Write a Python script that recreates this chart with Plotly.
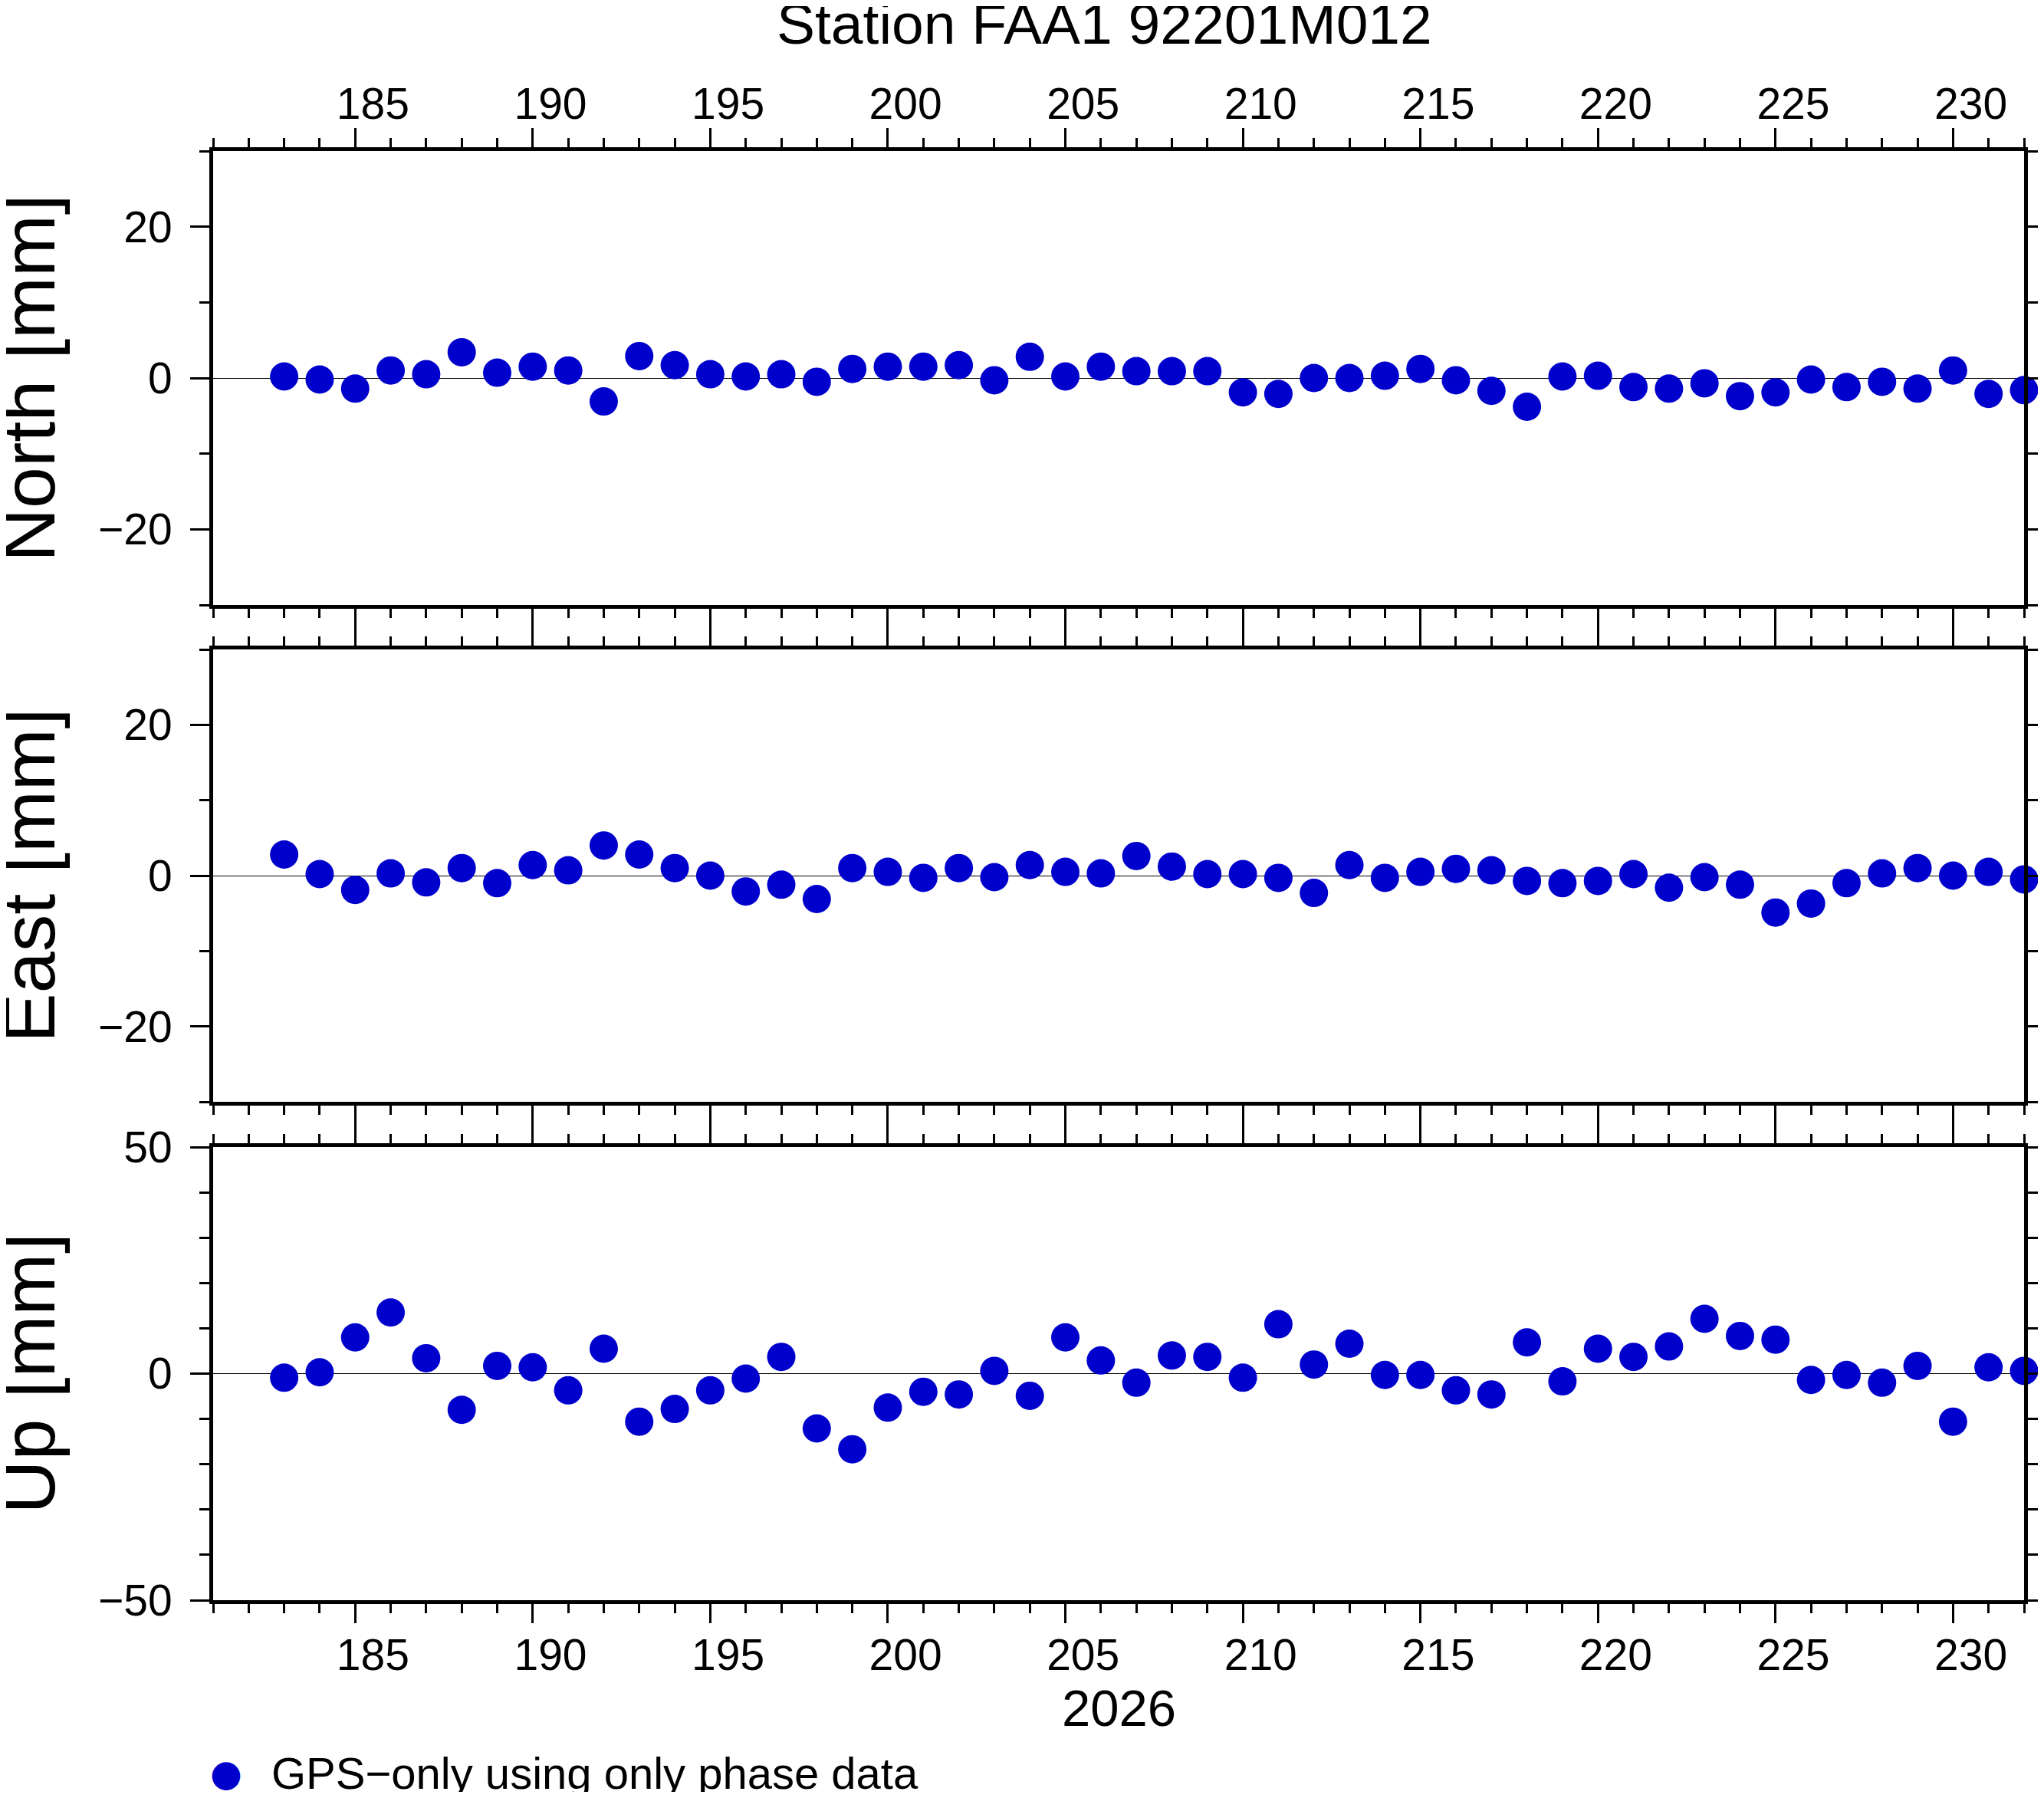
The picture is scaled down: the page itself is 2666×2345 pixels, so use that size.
"""
Daily position residuals for station FAA1 (North / East / Up), GMT-style frame.
"""

import plotly.graph_objects as go
from plotly.subplots import make_subplots

# day of year 2026
days = list(range(183, 233))
label_days = list(range(185, 231, 5))

north = [0.2, -0.2, -1.4, 1.0, 0.5, 3.4, 0.7, 1.5, 1.0, -3.1,
         2.9, 1.7, 0.5, 0.2, 0.5, -0.5, 1.2, 1.5, 1.5, 1.7,
         -0.3, 2.8, 0.2, 1.5, 0.9, 0.9, 0.9, -1.9, -2.1, 0.0,
         0.0, 0.3, 1.2, -0.3, -1.7, -3.8, 0.2, 0.3, -1.2, -1.4,
         -0.7, -2.4, -1.9, -0.2, -1.2, -0.5, -1.4, 1.0, -2.1, -1.6]

east = [2.8, 0.2, -1.9, 0.3, -0.9, 1.0, -1.0, 1.4, 0.7, 4.0,
        2.8, 1.0, 0.0, -2.1, -1.2, -3.1, 1.0, 0.5, -0.3, 1.0,
        -0.2, 1.4, 0.5, 0.3, 2.6, 1.2, 0.2, 0.2, -0.3, -2.3,
        1.4, -0.3, 0.5, 0.9, 0.7, -0.7, -1.0, -0.7, 0.2, -1.6,
        -0.2, -1.2, -4.9, -3.7, -1.0, 0.3, 1.0, 0.0, 0.5, -0.5]

up = [-0.9, 0.3, 8.0, 13.5, 3.4, -8.0, 1.7, 1.4, -3.7, 5.5,
      -10.6, -7.8, -3.7, -1.1, 3.7, -12.1, -16.7, -7.5, -4.0, -4.6,
      0.6, -4.9, 8.0, 2.9, -2.0, 4.0, 3.7, -0.9, 10.9, 2.0,
      6.6, -0.3, -0.3, -3.7, -4.6, 6.9, -1.7, 5.5, 3.7, 6.0,
      12.1, 8.3, 7.5, -1.4, -0.3, -2.0, 1.7, -10.6, 1.4, 0.6]

components = [("North [mm]", north, [-30, 30], 20),
              ("East [mm]", east, [-30, 30], 20),
              ("Up [mm]", up, [-50, 50], 50)]

FONT = "Liberation Sans"
BLUE = "#0000cc"
XRANGE = [181, 232]
OFF = 8  # default page body margin
W, H = 2658, 2329
# plot area in figure pixels
L, R, T, B = 278 - OFF, 2640 - OFF, 197 - OFF, 2087 - OFF
# panel top/bottom edges in page pixels
panels = [(197, 789), (847, 1437), (1496, 2087)]


def px_x(px):
    return (px - OFF - L) / (R - L)


def px_y(py):
    return (B - (py - OFF)) / (B - T)


fig = make_subplots(rows=3, cols=1)

tickfont = dict(family=FONT, size=57, color="black")
axis_style = dict(
    showline=True, linewidth=5, linecolor="black", mirror="ticks",
    ticks="outside", ticklen=25, tickwidth=3, tickcolor="black",
    showgrid=False, tickfont=tickfont, automargin=False,
)

for i, (label, values, yrange, ystep) in enumerate(components, start=1):
    top, bottom = panels[i - 1]
    dom = [px_y(bottom), px_y(top)]
    fig.add_trace(
        go.Scatter(x=days, y=values, mode="markers",
                   marker=dict(color=BLUE, size=37, line=dict(width=0)),
                   cliponaxis=False, showlegend=False),
        row=i, col=1
    )
    fig.update_xaxes(
        range=XRANGE, dtick=5, tick0=185,
        minor=dict(dtick=1, ticklen=12, tickwidth=3, ticks="outside", tickcolor="black"),
        zeroline=False, showticklabels=False, side="top" if i == 1 else "bottom",
        row=i, col=1, **axis_style
    )
    fig.update_yaxes(
        range=yrange, dtick=ystep, tick0=0, domain=dom,
        minor=dict(dtick=10, ticklen=13, tickwidth=3, ticks="outside", tickcolor="black"),
        zeroline=True, zerolinecolor="black", zerolinewidth=1,
        ticklabelstandoff=12,
        row=i, col=1, **axis_style
    )
    fig.add_annotation(
        text=label, xref="paper", yref="paper", x=px_x(37), y=sum(dom) / 2,
        textangle=-90, showarrow=False, xanchor="center", yanchor="middle",
        font=dict(family=FONT, size=97, color="black")
    )

# day labels sit in the middle of each day interval (GMT style), on overlay axes
label_axis = dict(
    range=XRANGE, tickmode="array",
    tickvals=[d + 0.5 for d in label_days], ticktext=[str(d) for d in label_days],
    ticks="outside", ticklen=25, tickcolor="rgba(0,0,0,0)", showline=False,
    showgrid=False, zeroline=False, tickfont=tickfont, automargin=False,
)
fig.update_layout(
    xaxis4=dict(overlaying="x", anchor="y", side="top", ticklabelstandoff=-7, **label_axis),
    xaxis5=dict(overlaying="x3", anchor="y3", side="bottom", ticklabelstandoff=-3, **label_axis),
)
fig.add_trace(go.Scatter(x=[], y=[], xaxis="x4", yaxis="y", showlegend=False))
fig.add_trace(go.Scatter(x=[], y=[], xaxis="x5", yaxis="y3", showlegend=False))

fig.add_annotation(
    text="Station FAA1 92201M012", xref="paper", yref="paper",
    x=px_x(1440), y=px_y(31), showarrow=False, xanchor="center", yanchor="middle",
    font=dict(family=FONT, size=75, color="black")
)
fig.add_annotation(
    text="2026", xref="paper", yref="paper",
    x=px_x(1459), y=px_y(2227), showarrow=False, xanchor="center", yanchor="middle",
    font=dict(family=FONT, size=67, color="black")
)

# legend entry
fig.add_annotation(
    text="●", xref="paper", yref="paper",
    x=px_x(295), y=px_y(2312), showarrow=False, xanchor="center", yanchor="middle",
    font=dict(family="DejaVu Sans", size=48, color=BLUE)
)
fig.add_annotation(
    text="GPS−only using only phase data", xref="paper", yref="paper",
    x=px_x(352), y=px_y(2312), showarrow=False, xanchor="left", yanchor="middle",
    font=dict(family=FONT, size=58, color="black")
)

fig.update_layout(
    width=W, height=H, autosize=False,
    margin=dict(l=L, r=W - R, t=T, b=H - B, pad=0),
    plot_bgcolor="white", paper_bgcolor="white",
    showlegend=False,
)

fig.write_html("out.html")
